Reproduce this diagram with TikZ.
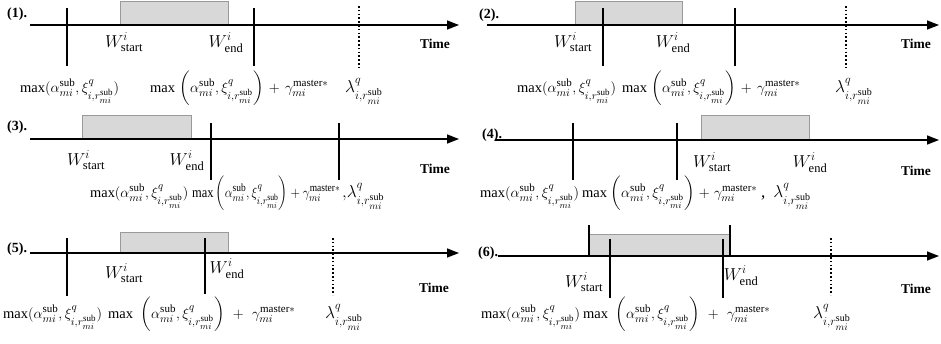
\documentclass[tikz,border=0pt]{standalone}
\usepackage{amsmath}
\usepackage{graphicx}
\usepackage{fontspec}
\setmainfont{Liberation Serif}
\usetikzlibrary{arrows.meta, positioning}

\DeclareMathSizes{14.5}{14.5}{11}{9}
\DeclareMathSizes{17}{17}{12.5}{10}

\definecolor{winfill}{HTML}{D8D8D8}
\definecolor{winedge}{HTML}{9A9A9A}

\tikzstyle{axis}   = [line width=1.5pt, -{Triangle[length=12pt,width=9pt]}]
\tikzstyle{tick}   = [line width=1.4pt]
\tikzstyle{lamtick}= [line width=1.4pt, dash pattern=on 1.6pt off 2.2pt]
\tikzstyle{window} = [draw=winedge, fill=winfill, line width=0.6pt]
\tikzstyle{wlabel} = [inner sep=0pt, anchor=base, font=\fontsize{17}{19}\selectfont]
\tikzstyle{case}   = [inner sep=0pt, anchor=base west, font=\fontsize{14}{16}\selectfont\bfseries]
\tikzstyle{timelbl}= [inner sep=0pt, anchor=base, font=\fontsize{13.5}{16}\selectfont\bfseries]
\tikzstyle{bound}  = [inner sep=0pt, anchor=base west, font=\fontsize{14.5}{17}\selectfont]
\tikzstyle{lamlbl} = [inner sep=0pt, anchor=base west, font=\fontsize{17}{19}\selectfont]

\newcommand{\Wst}{$W^{i}_{\text{start}}$}
\newcommand{\Wnd}{$W^{i}_{\text{end}}$}
\newcommand{\lowbound}{$\max(\alpha^{\mathrm{sub}}_{mi},\xi^{q}_{i,r^{\mathrm{sub}}_{mi}})$}
% optional arg: extra gap after max and round the plus
\newcommand{\upbound}[1][0pt]{$\max\hspace{#1}\left(\alpha^{\mathrm{sub}}_{mi},\xi^{q}_{i,r^{\mathrm{sub}}_{mi}}\right)\hspace{#1}+\hspace{#1}\gamma^{\mathrm{master}*}_{mi}$}
\newcommand{\lamq}{$\lambda^{q}_{i,r^{\mathrm{sub}}_{mi}}$}

\begin{document}
\begin{tikzpicture}[x=1pt, y=-1pt]
  \useasboundingbox (0,0) rectangle (941,343);

  %% (1)
  \fill[window] (120,1) rectangle (228,25);
  \coordinate (a1s) at (30,25);
  \coordinate (a1e) at (459,25);
  \draw[axis] (a1s) -- (a1e);
  \node[case] (c1) at (7,17) {(1).};
  \draw[tick] (67,8) -- (67,66);
  \draw[tick] (254,8) -- (254,66);
  \draw[lamtick] (359,6) -- (359,67);
  \node[wlabel] (ws1) at (124,47) {\Wst};
  \node[wlabel] (we1) at (226,47) {\Wnd};
  \node[timelbl] (t1) at (435,48) {Time};
  \node[bound] (lo1) at (20,92) {\lowbound};
  \node[bound] (up1) at (150,92) {\upbound[2pt]};
  \node[lamlbl] (la1) at (345,92) {\lamq};

  %% (2)
  \fill[window] (575,1) rectangle (682,25);
  \coordinate (a2s) at (487,25);
  \coordinate (a2e) at (939,25);
  \draw[axis] (a2s) -- (a2e);
  \node[case] (c2) at (479,18) {(2).};
  \draw[tick] (603,8) -- (603,66);
  \draw[tick] (735,8) -- (735,66);
  \draw[lamtick] (846,6) -- (846,67);
  \node[wlabel] (ws2) at (573,47) {\Wst};
  \node[wlabel] (we2) at (673,47) {\Wnd};
  \node[timelbl] (t2) at (916,48) {Time};
  \node[bound] (lo2) at (517,92) {\lowbound};
  \node[bound] (up2) at (622,92) {\upbound[2pt]};
  \node[lamlbl] (la2) at (835,92) {\lamq};

  %% (3)
  \fill[window] (82,115) rectangle (191,139);
  \coordinate (a3s) at (30,139);
  \coordinate (a3e) at (459,139);
  \draw[axis] (a3s) -- (a3e);
  \node[case] (c3) at (7,130) {(3).};
  \draw[tick] (211,123) -- (211,180);
  \draw[tick] (339,123) -- (339,180);
  \node[wlabel] (ws3) at (86,165) {\Wst};
  \node[wlabel] (we3) at (187,165) {\Wnd};
  \node[timelbl] (t3) at (435,173) {Time};
  \node[bound] (lo3) at (90,197) {\resizebox{98pt}{\height}{\lowbound}};
  \node[bound] (up3) at (192,197) {\resizebox{148pt}{\height}{\upbound}};
  \node[lamlbl] (la3) at (342,197) {$,$\lamq};

  %% (4)
  \fill[window] (701,115) rectangle (809,140);
  \coordinate (a4s) at (495,140);
  \coordinate (a4e) at (939,140);
  \draw[axis] (a4s) -- (a4e);
  \node[case] (c4) at (482,138) {(4).};
  \draw[tick] (573,123) -- (573,180);
  \draw[tick] (677,123) -- (677,180);
  \node[wlabel] (ws4) at (712,167) {\Wst};
  \node[wlabel] (we4) at (810,167) {\Wnd};
  \node[timelbl] (t4) at (916,175) {Time};
  \node[bound] (lo4) at (480,197) {\lowbound};
  \node[bound] (up4) at (582,197) {\upbound[1pt]};
  \node[lamlbl] (la4) at (761,197) {,\hspace{8pt}\lamq};

  %% (5)
  \fill[window] (120,232) rectangle (228,253);
  \coordinate (a5s) at (30,253);
  \coordinate (a5e) at (459,253);
  \draw[axis] (a5s) -- (a5e);
  \node[case] (c5) at (7,252) {(5).};
  \draw[tick] (67,238) -- (67,296);
  \draw[tick] (205,238) -- (205,294);
  \draw[lamtick] (333,238) -- (333,295);
  \node[wlabel] (ws5) at (124,278) {\Wst};
  \node[wlabel] (we5) at (227,273) {\Wnd};
  \node[timelbl] (t5) at (434,292) {Time};
  \node[bound] (lo5) at (3,318) {\lowbound};
  \node[bound] (up5) at (108,318) {\upbound[5pt]};
  \node[lamlbl] (la5) at (325,318) {\lamq};

  %% (6)
  \fill[window] (589,234) rectangle (730,256);
  \coordinate (a6s) at (498,256);
  \coordinate (a6e) at (939,256);
  \draw[axis] (a6s) -- (a6e);
  \node[case] (c6) at (478,256) {(6).};
  \draw[tick] (589,225) -- (589,256);
  \draw[tick] (730,225) -- (730,256);
  \draw[tick] (610,239) -- (610,298);
  \draw[tick] (723,239) -- (723,298);
  \draw[lamtick] (831,238) -- (831,295);
  \node[wlabel] (ws6) at (584,287) {\Wst};
  \node[wlabel] (we6) at (741,280) {\Wnd};
  \node[timelbl] (t6) at (916,293) {Time};
  \node[bound] (lo6) at (481,318) {\lowbound};
  \node[bound] (up6) at (583,318) {\upbound[5pt]};
  \node[lamlbl] (la6) at (813,318) {\lamq};

\end{tikzpicture}
\end{document}
